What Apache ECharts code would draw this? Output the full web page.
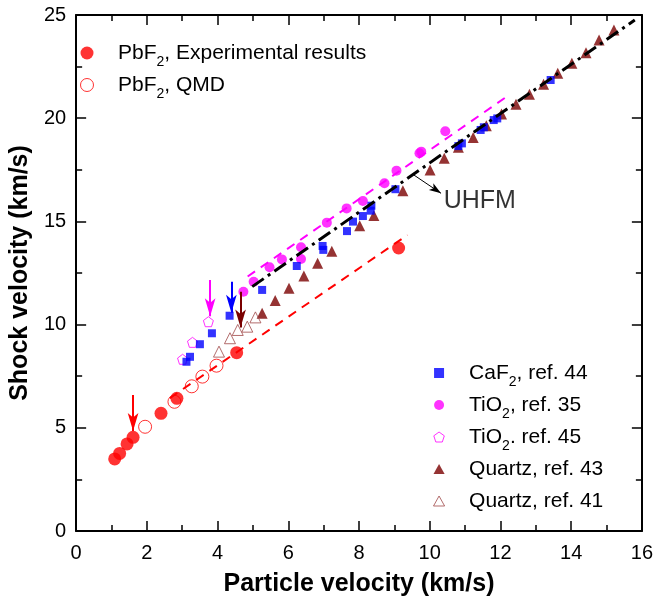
<!DOCTYPE html>
<html>
<head>
<meta charset="utf-8">
<script src="https://cdn.jsdelivr.net/npm/echarts@6/dist/echarts.min.js"></script>
<style>html,body{margin:0;padding:0;background:#fff;}#chart{width:656px;height:604px;}</style>
</head>
<body>
<div id="chart"></div>
<script>
// ---- data ----
const pbf2Exp = [[1.09,3.49],[1.23,3.76],[1.44,4.22],[1.61,4.54],[2.40,5.70],[2.85,6.43],[4.54,8.64],[9.12,13.71]];
const pbf2Qmd = [[1.95,5.05],[2.78,6.26],[3.27,7.01],[3.57,7.48],[3.97,8.01]];
const caf2Ref44 = [[3.12,8.20],[3.22,8.44],[3.50,9.05],[3.84,9.58],[4.34,10.43],[5.26,11.68],[6.24,12.84],[6.97,13.81],[6.99,13.62],[7.66,14.53],[7.83,14.99],[8.11,15.26],[8.33,15.52],[8.35,15.76],[9.03,16.56],[10.81,18.65],[10.91,18.78],[11.44,19.43],[11.53,19.56],[11.81,19.91],[11.91,19.99],[13.42,21.85]];
const tio2Ref35 = [[4.73,11.59],[5.02,12.08],[5.47,12.78],[5.82,13.16],[6.36,13.18],[6.36,13.75],[7.09,14.94],[7.65,15.63],[8.11,15.99],[8.72,16.85],[9.06,17.46],[9.71,18.30],[9.76,18.38],[10.44,19.37]];
const tio2Ref45 = [[3.01,8.32],[3.29,9.14],[3.74,10.14]];
const quartzRef43 = [[5.26,10.55],[5.63,11.17],[6.02,11.76],[6.44,12.35],[6.83,12.97],[7.23,13.55],[8.02,14.79],[8.42,15.28],[9.24,16.49],[10.01,17.49],[10.41,18.06],[10.81,18.59],[11.23,19.06],[11.60,19.64],[12.03,20.20],[12.44,20.67],[12.82,21.16],[13.22,21.64],[13.62,22.18],[14.02,22.66],[14.42,23.17],[14.79,23.79],[15.21,24.27]];
const quartzRef41 = [[4.04,8.69],[4.35,9.34],[4.57,9.74],[4.84,9.90],[5.07,10.35]];

// fit lines (end points)
const pbf2Fit = [[2.65,6.44],[9.37,14.34]];
const tio2Fit = [[4.85,12.33],[12.24,21.12]];
const uhfmFit = [[4.98,11.84],[15.80,24.76]];

// arrows: [x, yStart, yTip]
const redArrow = [1.61, 6.59, 4.84];
const magentaArrow = [3.79, 12.16, 10.40];
const blueArrow = [4.39, 12.08, 10.57];
const brownArrow = [4.65, 11.59, 9.86];
// UHFM pointer: start and tip, and label position
const uhfmPointer = [[9.55,17.25],[10.32,16.36]];
const uhfmLabelPos = [10.38, 15.96];

// axes
const xRange = [0, 16], xStep = 2;
const yRange = [0, 25], yStep = 5;

const FF = '"Liberation Sans", Arial, Helvetica, sans-serif';
const pentagon = 'path://M0,-10 L9.511,-3.09 L5.878,8.09 L-5.878,8.09 L-9.511,-3.09 Z';
const squareIcon = 'path://M0,0 L10,0 L10,10 L0,10 Z';
const triangleIcon = 'path://M5,0 L10,9 L0,9 Z';

function vArrow(a, color) {
  return {
    silent: true, animation: false,
    symbol: ['none', 'arrow'], symbolSize: [8, 18],
    label: {show: false},
    lineStyle: {color: color, width: 2, type: 'solid'},
    emphasis: {disabled: true},
    data: [[{coord: [a[0], a[1]]}, {coord: [a[0], a[2]]}]]
  };
}

function axisCommon(extra) {
  return Object.assign({
    type: 'value',
    axisLine: {show: true, onZero: false, lineStyle: {color: '#000', width: 2}},
    axisTick: {show: true, inside: true, length: 10, lineStyle: {color: '#000', width: 1.5}},
    minorTick: {show: true, splitNumber: 2, length: 6, lineStyle: {color: '#000', width: 1.5}},
    splitLine: {show: false},
    minorSplitLine: {show: false}
  }, extra);
}

const richStyles = {
  n: {fontSize: 21, fontFamily: FF, color: '#000', lineHeight: 32},
  s: {fontSize: 14, fontFamily: FF, color: '#000', lineHeight: 14, padding: [18, 0, 0, 0]}
};
function legendFmt(name) {
  const m = name.match(/^(PbF|CaF|TiO)2(.*)$/);
  if (m) return '{n|' + m[1] + '}{s|2}{n|' + m[2] + '}';
  return '{n|' + name + '}{s| }';
}

const chart = echarts.init(document.getElementById('chart'), null, {renderer: 'canvas'});
const option = {
  animation: false,
  backgroundColor: '#fff',
  grid: {left: 74, right: 12, top: 15, bottom: 73, containLabel: false},
  xAxis: [
    axisCommon({
      min: xRange[0], max: xRange[1], interval: xStep, position: 'bottom',
      name: 'Particle velocity (km/s)', nameLocation: 'middle', nameGap: 41,
      nameTextStyle: {fontSize: 25, fontWeight: 'bold', color: '#000', fontFamily: FF},
      axisLabel: {fontSize: 20, color: '#000', margin: 12, fontFamily: FF}
    }),
    axisCommon({
      min: xRange[0], max: xRange[1], interval: xStep, position: 'top',
      axisLabel: {show: false}
    })
  ],
  yAxis: [
    axisCommon({
      min: yRange[0], max: yRange[1], interval: yStep, position: 'left',
      name: 'Shock velocity (km/s)', nameLocation: 'middle', nameGap: 33,
      nameTextStyle: {fontSize: 25, fontWeight: 'bold', color: '#000', fontFamily: FF},
      axisLabel: {fontSize: 20, color: '#000', margin: 10, fontFamily: FF}
    }),
    axisCommon({
      min: yRange[0], max: yRange[1], interval: yStep, position: 'right',
      axisLabel: {show: false}
    })
  ],
  legend: [
    {
      orient: 'vertical', left: 80, top: 37, padding: 0, itemGap: 0,
      itemWidth: 52, itemHeight: 13, selectedMode: false,
      textStyle: {fontSize: 21, fontFamily: FF, color: '#000', rich: richStyles},
      formatter: legendFmt,
      data: [
        {name: 'PbF2, Experimental results', icon: 'circle', itemStyle: {color: '#ff0000', borderWidth: 0}},
        {name: 'PbF2, QMD', icon: 'circle', itemStyle: {color: 'rgba(0,0,0,0)', borderColor: '#ff0000', borderWidth: 1}}
      ]
    },
    {
      orient: 'vertical', left: 433, top: 357, padding: 0, itemGap: 0,
      itemWidth: 50, itemHeight: 10, selectedMode: false,
      textStyle: {fontSize: 21, fontFamily: FF, color: '#000', rich: richStyles},
      formatter: legendFmt,
      data: [
        {name: 'CaF2, ref. 44', icon: squareIcon, itemStyle: {color: '#0000ff', borderWidth: 0}},
        {name: 'TiO2, ref. 35', icon: 'circle', itemStyle: {color: '#ff00ff', borderWidth: 0}},
        {name: 'TiO2. ref. 45', icon: pentagon, itemStyle: {color: 'rgba(0,0,0,0)', borderColor: '#ff00ff', borderWidth: 1}},
        {name: 'Quartz, ref. 43', icon: triangleIcon, itemStyle: {color: '#7a0000', borderWidth: 0}},
        {name: 'Quartz, ref. 41', icon: triangleIcon, itemStyle: {color: 'rgba(0,0,0,0)', borderColor: '#a04848', borderWidth: 1}}
      ]
    }
  ],
  series: [
    {
      name: 'PbF2 fit', type: 'line', data: pbf2Fit, symbol: 'none', silent: true, z: 1,
      lineStyle: {color: '#ff0000', width: 2, type: [9, 7]}
    },
    {
      name: 'TiO2 fit', type: 'line', data: tio2Fit, symbol: 'none', silent: true, z: 1,
      lineStyle: {color: '#ff00ff', width: 2, type: [9, 7]}
    },
    {
      name: 'UHFM', type: 'line', data: uhfmFit, symbol: 'none', silent: true, z: 3,
      lineStyle: {color: '#000', width: 3, type: [14, 5, 3, 5]},
      markLine: {
        silent: true, animation: false,
        symbol: ['none', 'arrow'], symbolSize: [6, 12],
        label: {show: false},
        lineStyle: {color: '#000', width: 1, type: 'solid'},
        data: [[{coord: uhfmPointer[0]}, {coord: uhfmPointer[1]}]]
      }
    },
    {
      name: 'UHFM label', type: 'scatter', data: [uhfmLabelPos], symbolSize: 1, silent: true,
      itemStyle: {color: 'rgba(0,0,0,0)'},
      label: {show: true, position: 'right', distance: 0, formatter: 'UHFM', fontSize: 25, fontFamily: FF, color: '#000'}
    },
    {
      name: 'PbF2, Experimental results', type: 'scatter', data: pbf2Exp, symbol: 'circle', symbolSize: 13, z: 4,
      itemStyle: {color: '#ff0000'},
      markLine: vArrow(redArrow, '#ff0000')
    },
    {
      name: 'PbF2, QMD', type: 'scatter', data: pbf2Qmd, symbol: 'circle', symbolSize: 13, z: 4,
      itemStyle: {color: 'rgba(0,0,0,0)', borderColor: '#ff0000', borderWidth: 1}
    },
    {
      name: 'Quartz, ref. 43', type: 'scatter', data: quartzRef43, symbol: 'triangle', symbolSize: 11, z: 2,
      itemStyle: {color: '#7a0000'},
      markLine: vArrow(brownArrow, '#7a0000')
    },
    {
      name: 'Quartz, ref. 41', type: 'scatter', data: quartzRef41, symbol: 'triangle', symbolSize: 11, z: 2,
      itemStyle: {color: 'rgba(0,0,0,0)', borderColor: '#a04848', borderWidth: 1}
    },
    {
      name: 'TiO2, ref. 35', type: 'scatter', data: tio2Ref35, symbol: 'circle', symbolSize: 10, z: 2,
      itemStyle: {color: '#ff00ff'}
    },
    {
      name: 'TiO2. ref. 45', type: 'scatter', data: tio2Ref45, symbol: pentagon, symbolSize: 10, z: 2,
      itemStyle: {color: 'rgba(0,0,0,0)', borderColor: '#ff00ff', borderWidth: 1},
      markLine: vArrow(magentaArrow, '#ff00ff')
    },
    {
      name: 'CaF2, ref. 44', type: 'scatter', data: caf2Ref44, symbol: 'rect', symbolSize: 8, z: 2,
      itemStyle: {color: '#0000ff'},
      markLine: vArrow(blueArrow, '#0000ff')
    }
  ]
};
chart.setOption(option);
</script>
</body>
</html>
